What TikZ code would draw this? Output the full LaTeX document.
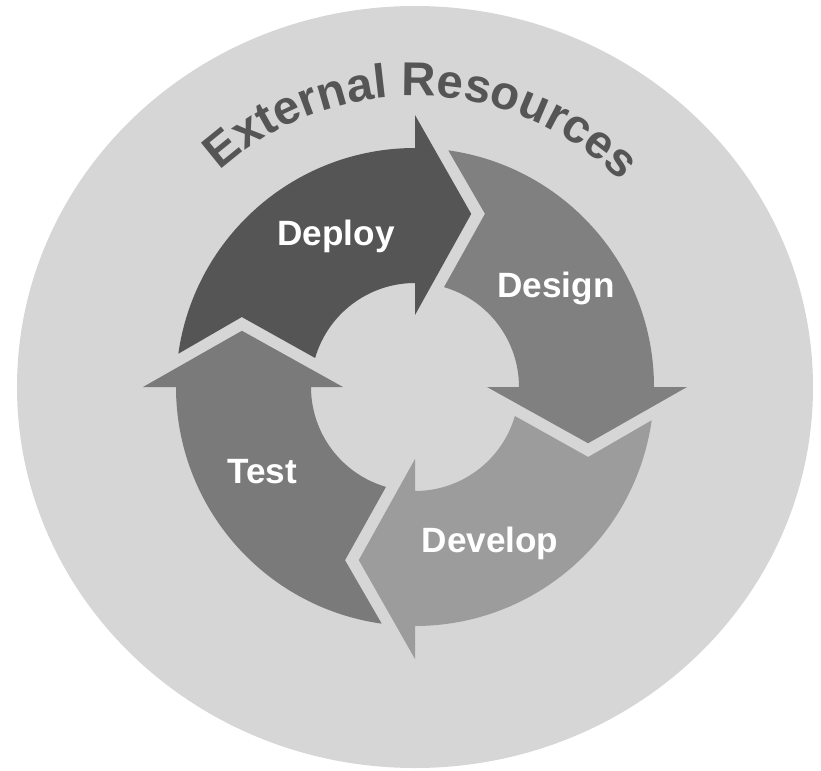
\documentclass[tikz,border=0pt]{standalone}
\usepackage{fontspec}
\setmainfont{Liberation Sans}
\usetikzlibrary{decorations.text}
\definecolor{bgc}{HTML}{D6D6D6}
\definecolor{deployc}{HTML}{555555}
\definecolor{designc}{HTML}{808080}
\definecolor{developc}{HTML}{9C9C9C}
\definecolor{testc}{HTML}{7A7A7A}
\definecolor{titlec}{HTML}{555555}
\begin{document}
\begin{tikzpicture}[x=0.03cm,y=0.03cm,
  lbl/.style={text=white,font=\bfseries\fontsize{30}{36}\selectfont,anchor=base,inner sep=0pt},
  cyclearrow/.style={fill=#1,draw=none}]
\useasboundingbox (-415,-383) rectangle (406,387);
% background disc
\fill[bgc] (0,0) ellipse[x radius=398,y radius=381];
% four arrows (same shape, rotated)
\foreach \rot/\col in {0/deployc,-90/designc,-180/developc,-270/testc}{
  \path[cyclearrow=\col,rotate=\rot]
    (172:239) arc[start angle=172,end angle=90,radius=239]
    -- (90:272) -- (72:182) -- (90:72) -- (90:104)
    arc[start angle=90,end angle=163.8,radius=104]
    -- (158:186.8) -- cycle;
}
% labels
\node[lbl] (deploy) at (-79,142) {Deploy};
\node[lbl] (design) at (141,90) {Design};
\node[lbl] (develop) at (75,-165) {Develop};
\node[lbl] (test) at (-153,-96) {Test};
% curved title
\path[decorate,decoration={text along path,
    text={|\bfseries\fontsize{40.5}{46}\selectfont|External Resources},
    text color=titlec,text align=center}]
  (178.5:291) arc[start angle=178.5,end angle=-1.5,radius=291];
\end{tikzpicture}
\end{document}
